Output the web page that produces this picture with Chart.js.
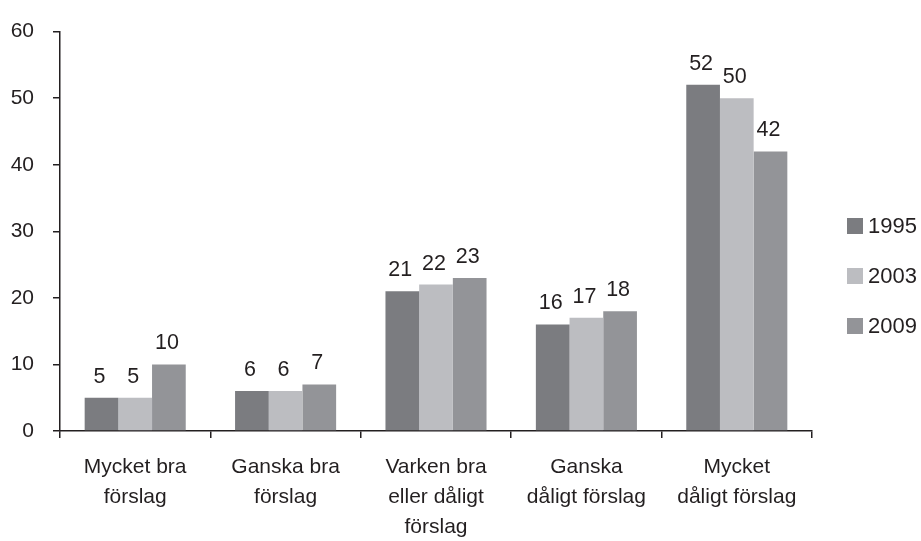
<!DOCTYPE html>
<html>
<head>
<meta charset="utf-8">
<script src="https://cdn.jsdelivr.net/npm/chart.js@4/dist/chart.umd.min.js"></script>
<style>
    html, body { margin: 0; padding: 0; background: #ffffff; }
    #wrap { width: 921px; height: 541px; position: relative; }
</style>
</head>
<body>
<div id="wrap"><canvas id="bar-chart"></canvas></div>
<script>
// Chart data
const categories = [
    ['Mycket bra', 'förslag'],
    ['Ganska bra', 'förslag'],
    ['Varken bra', 'eller dåligt', 'förslag'],
    ['Ganska', 'dåligt förslag'],
    ['Mycket', 'dåligt förslag']
];
const seriesNames = ['1995', '2003', '2009'];
const values1995 = [5, 6, 21, 16, 52];
const values2003 = [5, 6, 22, 17, 50];
const values2009 = [10, 7, 23, 18, 42];
const yTicks = [0, 10, 20, 30, 40, 50, 60];

const colors = {
    s1995: '#7b7c80',
    s2003: '#bcbdc1',
    s2009: '#939498',
    text: '#231f20',
    axis: '#231f20'
};

const fontFamily = '"Liberation Sans", Arial, Helvetica, sans-serif';

// Value labels above each bar
const valueLabels = {
    id: 'valueLabels',
    afterDatasetsDraw(chart) {
        const ctx = chart.ctx;
        ctx.save();
        ctx.font = '21.5px ' + fontFamily;
        ctx.fillStyle = colors.text;
        ctx.textAlign = 'center';
        ctx.textBaseline = 'alphabetic';
        chart.data.datasets.forEach((ds, i) => {
            chart.getDatasetMeta(i).data.forEach((bar, j) => {
                ctx.fillText(String(ds.data[j]), bar.x - 2, bar.y - 15);
            });
        });
        ctx.restore();
    }
};

// Legend on the right, drawn by hand so its spacing matches
const sideLegend = {
    id: 'sideLegend',
    afterDraw(chart) {
        const ctx = chart.ctx;
        const startY = 226;
        const step = 50;
        ctx.save();
        ctx.font = '22px ' + fontFamily;
        ctx.textAlign = 'left';
        ctx.textBaseline = 'middle';
        chart.data.datasets.forEach((ds, i) => {
            const cy = startY + i * step;
            ctx.fillStyle = ds.backgroundColor;
            ctx.fillRect(847, cy - 8, 16, 16);
            ctx.fillStyle = colors.text;
            ctx.fillText(ds.label, 868, cy + 1);
        });
        ctx.restore();
    }
};

const data = {
    labels: categories,
    datasets: [
        { label: seriesNames[0], data: values1995, backgroundColor: colors.s1995 },
        { label: seriesNames[1], data: values2003, backgroundColor: colors.s2003 },
        { label: seriesNames[2], data: values2009, backgroundColor: colors.s2009 }
    ]
};

const options = {
    responsive: false,
    animation: false,
    maintainAspectRatio: false,
    layout: {
        padding: { top: 23, right: 109, bottom: 0, left: 0 }
    },
    datasets: {
        bar: {
            categoryPercentage: 0.672,
            barPercentage: 1.0,
            borderWidth: 0
        }
    },
    plugins: {
        legend: { display: false },
        tooltip: { enabled: false }
    },
    scales: {
        x: {
            grid: {
                offset: true,
                drawOnChartArea: false,
                drawTicks: true,
                tickLength: 7,
                color: colors.axis,
                lineWidth: 1.5
            },
            border: { display: true, color: colors.axis, width: 1.5 },
            ticks: {
                color: colors.text,
                padding: 14,
                maxRotation: 0,
                autoSkip: false,
                font: { family: fontFamily, size: 21, lineHeight: 1.43 }
            },
            afterFit(scale) { scale.height = 110; }
        },
        y: {
            min: 0,
            max: 60,
            afterBuildTicks(scale) {
                scale.ticks = yTicks.map(v => ({ value: v }));
            },
            grid: {
                drawOnChartArea: false,
                drawTicks: true,
                tickLength: 7,
                color: colors.axis,
                lineWidth: 1.5
            },
            border: { display: true, color: colors.axis, width: 1.5 },
            ticks: {
                color: colors.text,
                padding: 19,
                font: { family: fontFamily, size: 21 }
            },
            afterFit(scale) { scale.width = 60; }
        }
    }
};

const canvas = document.getElementById('bar-chart');
canvas.width = 921;
canvas.height = 541;
new Chart(canvas, {
    type: 'bar',
    data: data,
    options: options,
    plugins: [valueLabels, sideLegend]
});
</script>
</body>
</html>
